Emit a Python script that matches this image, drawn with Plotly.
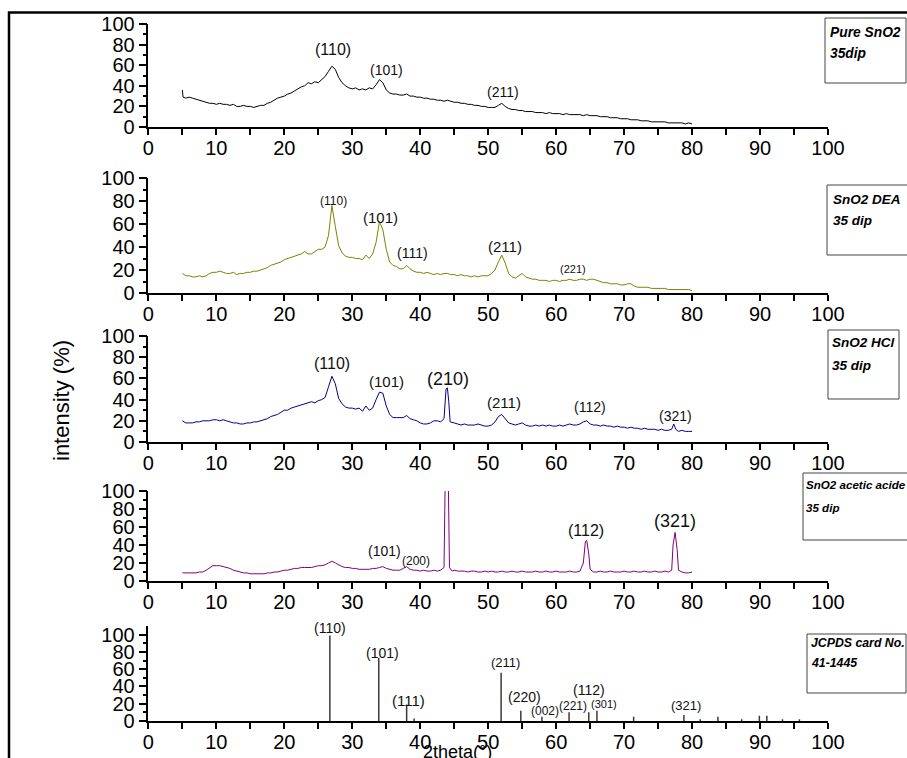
import plotly.graph_objects as go

# ---------------- data ----------------
pure_2theta = [5.0, 5.1, 5.5, 6.0, 6.5, 7.0, 7.5, 8.0, 8.5, 9.0, 9.5, 10.0, 10.5, 11.0, 11.5, 12.0, 12.5, 13.0, 13.5, 14.0,
               14.5, 15.0, 15.5, 16.0, 16.5, 17.0, 17.5, 18.0, 18.5, 19.0, 19.5, 20.0, 20.5, 21.0, 21.5, 22.0, 22.5, 23.0,
               23.5, 24.0, 24.5, 25.0, 25.5, 26.0, 26.5, 27.0, 27.5, 28.0, 28.5, 29.0, 29.5, 30.0, 30.5, 31.0, 31.5, 32.0,
               32.5, 33.0, 33.5, 34.0, 34.5, 35.0, 35.5, 36.0, 36.5, 37.0, 37.5, 38.0, 38.5, 39.0, 39.5, 40.0, 40.5, 41.0,
               41.5, 42.0, 42.5, 43.0, 43.5, 44.0, 44.5, 45.0, 45.5, 46.0, 46.5, 47.0, 47.5, 48.0, 48.5, 49.0, 49.5, 50.0,
               50.5, 51.0, 51.5, 52.0, 52.5, 53.0, 53.5, 54.0, 54.5, 55.0, 55.5, 56.0, 56.5, 57.0, 57.5, 58.0, 58.5, 59.0,
               59.5, 60.0, 60.5, 61.0, 61.5, 62.0, 62.5, 63.0, 63.5, 64.0, 64.5, 65.0, 65.5, 66.0, 66.5, 67.0, 67.5, 68.0,
               68.5, 69.0, 69.5, 70.0, 70.5, 71.0, 71.5, 72.0, 72.5, 73.0, 73.5, 74.0, 74.5, 75.0, 75.5, 76.0, 76.5, 77.0,
               77.5, 78.0, 78.5, 79.0, 79.5, 80.0]
pure_int = [36, 29, 28, 29, 28, 27, 26, 25, 24, 23, 23, 22, 23, 22, 22, 21, 22, 20, 20, 21,
            20, 20, 19, 20, 21, 21, 23, 24, 26, 28, 29, 30, 32, 33, 35, 37, 39, 40,
            43, 42, 44, 43, 46, 49, 54, 59, 56, 48, 43, 40, 38, 37, 38, 36, 37, 36,
            38, 37, 41, 46, 43, 36, 33, 32, 32, 31, 31, 32, 30, 30, 29, 29, 28, 28,
            27, 27, 26, 26, 25, 26, 25, 24, 24, 23, 23, 22, 22, 21, 21, 20, 20, 19,
            19, 19, 21, 23, 20, 18, 17, 17, 16, 16, 15, 15, 15, 14, 14, 14, 13, 14,
            13, 13, 13, 12, 13, 12, 12, 12, 12, 11, 12, 11, 11, 11, 10, 10, 10, 9,
            9, 9, 8, 8, 8, 7, 7, 7, 6, 6, 6, 5, 5, 5, 5, 5, 4, 4,
            4, 4, 4, 3, 4, 3]

dea_2theta = [5.0, 5.5, 6.0, 6.5, 7.0, 7.5, 8.0, 8.5, 9.0, 9.5, 10.0, 10.5, 11.0, 11.5, 12.0, 12.5, 13.0, 13.5, 14.0, 14.5,
              15.0, 15.5, 16.0, 16.5, 17.0, 17.5, 18.0, 18.5, 19.0, 19.5, 20.0, 20.5, 21.0, 21.5, 22.0, 22.5, 23.0, 23.5,
              24.0, 24.5, 25.0, 25.5, 26.0, 26.5, 27.0, 27.5, 28.0, 28.5, 29.0, 29.5, 30.0, 30.5, 31.0, 31.5, 32.0, 32.5,
              33.0, 33.5, 34.0, 34.5, 35.0, 35.5, 36.0, 36.5, 37.0, 37.5, 38.0, 38.5, 39.0, 39.5, 40.0, 40.5, 41.0, 41.5,
              42.0, 42.5, 43.0, 43.5, 44.0, 44.5, 45.0, 45.5, 46.0, 46.5, 47.0, 47.5, 48.0, 48.5, 49.0, 49.5, 50.0, 50.5,
              51.0, 51.5, 52.0, 52.5, 53.0, 53.5, 54.0, 54.5, 55.0, 55.5, 56.0, 56.5, 57.0, 57.5, 58.0, 58.5, 59.0, 59.5,
              60.0, 60.5, 61.0, 61.5, 62.0, 62.5, 63.0, 63.5, 64.0, 64.5, 65.0, 65.5, 66.0, 66.5, 67.0, 67.5, 68.0, 68.5,
              69.0, 69.5, 70.0, 70.5, 71.0, 71.5, 72.0, 72.5, 73.0, 73.5, 74.0, 74.5, 75.0, 75.5, 76.0, 76.5, 77.0, 77.5,
              78.0, 78.5, 79.0, 79.5, 80.0]
dea_int = [17, 15, 15, 14, 14, 15, 14, 15, 17, 18, 18, 19, 18, 17, 17, 18, 16, 17, 17, 18,
           18, 19, 19, 20, 21, 22, 24, 25, 26, 27, 29, 30, 31, 32, 33, 34, 36, 34,
           34, 36, 38, 38, 40, 50, 76, 58, 41, 35, 32, 31, 31, 30, 30, 29, 33, 30,
           34, 44, 62, 55, 38, 27, 24, 23, 21, 21, 24, 21, 19, 18, 18, 17, 18, 17,
           16, 17, 16, 17, 17, 16, 16, 15, 16, 15, 15, 14, 15, 14, 15, 15, 15, 17,
           20, 27, 33, 26, 17, 14, 13, 15, 17, 14, 13, 12, 12, 11, 11, 11, 10, 11,
           11, 10, 11, 11, 12, 11, 11, 12, 12, 11, 12, 12, 11, 10, 9, 9, 8, 8,
           8, 7, 7, 8, 8, 6, 5, 5, 5, 5, 4, 4, 4, 4, 4, 3, 3, 3,
           3, 3, 3, 3, 2]

hcl_2theta = [5.0, 5.5, 6.0, 6.5, 7.0, 7.5, 8.0, 8.5, 9.0, 9.5, 10.0, 10.5, 11.0, 11.5, 12.0, 12.5, 13.0, 13.5, 14.0, 14.5,
              15.0, 15.5, 16.0, 16.5, 17.0, 17.5, 18.0, 18.5, 19.0, 19.5, 20.0, 20.5, 21.0, 21.5, 22.0, 22.5, 23.0, 23.5,
              24.0, 24.5, 25.0, 25.5, 26.0, 26.5, 27.0, 27.5, 28.0, 28.5, 29.0, 29.5, 30.0, 30.5, 31.0, 31.5, 32.0, 32.5,
              33.0, 33.5, 34.0, 34.5, 35.0, 35.5, 36.0, 36.5, 37.0, 37.5, 38.0, 38.5, 39.0, 39.5, 40.0, 40.5, 41.0, 41.5,
              42.0, 42.5, 43.0, 43.5, 43.8, 44.0, 44.2, 44.4, 45.0, 45.5, 46.0, 46.5, 47.0, 47.5, 48.0, 48.5, 49.0, 49.5,
              50.0, 50.5, 51.0, 51.5, 52.0, 52.5, 53.0, 53.5, 54.0, 54.5, 55.0, 55.5, 56.0, 56.5, 57.0, 57.5, 58.0, 58.5,
              59.0, 59.5, 60.0, 60.5, 61.0, 61.5, 62.0, 62.5, 63.0, 63.5, 64.0, 64.5, 65.0, 65.5, 66.0, 66.5, 67.0, 67.5,
              68.0, 68.5, 69.0, 69.5, 70.0, 70.5, 71.0, 71.5, 72.0, 72.5, 73.0, 73.5, 74.0, 74.5, 75.0, 75.5, 76.0, 76.5,
              77.0, 77.3, 77.6, 78.0, 78.5, 79.0, 79.5, 80.0]
hcl_int = [20, 18, 18, 18, 19, 19, 20, 20, 20, 21, 21, 20, 21, 20, 19, 18, 18, 17, 17, 18,
           18, 19, 19, 20, 21, 22, 24, 25, 26, 28, 30, 30, 32, 33, 34, 35, 36, 37,
           38, 37, 39, 40, 42, 52, 62, 55, 41, 36, 33, 32, 32, 31, 32, 29, 34, 30,
           32, 40, 47, 46, 34, 26, 23, 23, 23, 23, 25, 22, 21, 20, 18, 17, 17, 18,
           20, 20, 19, 22, 50, 51, 38, 19, 18, 17, 16, 17, 16, 16, 16, 17, 16, 15,
           15, 16, 19, 24, 26, 22, 18, 17, 16, 17, 18, 16, 15, 15, 16, 15, 16, 15,
           16, 15, 15, 16, 15, 16, 17, 16, 16, 17, 19, 20, 17, 16, 16, 15, 16, 15,
           15, 14, 15, 14, 14, 13, 14, 13, 13, 12, 13, 12, 12, 12, 11, 12, 11, 11,
           12, 17, 12, 10, 11, 10, 10, 10]

acetic_2theta = [5.0, 5.5, 6.0, 6.5, 7.0, 7.5, 8.0, 8.5, 9.0, 9.5, 10.0, 10.5, 11.0, 11.5, 12.0, 12.5, 13.0, 13.5, 14.0, 14.5,
                 15.0, 15.5, 16.0, 16.5, 17.0, 17.5, 18.0, 18.5, 19.0, 19.5, 20.0, 20.5, 21.0, 21.5, 22.0, 22.5, 23.0, 23.5,
                 24.0, 24.5, 25.0, 25.5, 26.0, 26.5, 27.0, 27.5, 28.0, 28.5, 29.0, 29.5, 30.0, 30.5, 31.0, 31.5, 32.0, 32.5,
                 33.0, 33.5, 34.0, 34.5, 35.0, 35.5, 36.0, 36.5, 37.0, 37.5, 38.0, 38.5, 39.0, 39.5, 40.0, 40.5, 41.0, 41.5,
                 42.0, 42.5, 43.0, 43.5, 43.7, 44.1, 44.3, 44.7, 45.0, 45.5, 46.0, 46.5, 47.0, 47.5, 48.0, 48.5, 49.0, 49.5,
                 50.0, 50.5, 51.0, 51.5, 52.0, 52.5, 53.0, 53.5, 54.0, 54.5, 55.0, 55.5, 56.0, 56.5, 57.0, 57.5, 58.0, 58.5,
                 59.0, 59.5, 60.0, 60.5, 61.0, 61.5, 62.0, 62.5, 63.0, 63.5, 64.0, 64.3, 64.5, 64.8, 65.0, 65.5, 66.0, 66.5,
                 67.0, 67.5, 68.0, 68.5, 69.0, 69.5, 70.0, 70.5, 71.0, 71.5, 72.0, 72.5, 73.0, 73.5, 74.0, 74.5, 75.0, 75.5,
                 76.0, 76.5, 77.0, 77.2, 77.5, 77.8, 78.0, 78.5, 79.0, 79.5, 80.0]
acetic_int = [9, 9, 9, 9, 9, 10, 10, 12, 15, 17, 17, 17, 16, 15, 14, 12, 11, 10, 9, 9,
              8, 8, 8, 8, 8, 9, 9, 10, 10, 11, 12, 12, 13, 14, 14, 15, 15, 15,
              15, 16, 17, 17, 18, 20, 22, 20, 18, 16, 15, 15, 14, 14, 13, 13, 13, 13,
              14, 14, 15, 16, 14, 13, 12, 12, 12, 14, 16, 13, 12, 12, 11, 12, 11, 11,
              12, 11, 12, 15, 130, 130, 15, 11, 12, 11, 11, 11, 10, 11, 11, 10, 10, 11,
              10, 11, 10, 10, 11, 10, 10, 11, 10, 10, 11, 10, 10, 10, 11, 10, 10, 11,
              10, 10, 11, 10, 10, 10, 11, 10, 10, 11, 20, 44, 45, 30, 13, 10, 10, 11,
              10, 10, 11, 10, 10, 10, 11, 10, 10, 11, 10, 10, 11, 10, 10, 11, 10, 10,
              11, 10, 12, 40, 54, 35, 12, 10, 9, 9, 10]

jcpds_2theta = [26.7, 33.9, 38.0, 39.1, 51.9, 54.8, 57.9, 61.9, 64.8, 66.0, 71.4, 78.8, 81.2, 83.8, 87.3, 89.9, 91.0, 93.3, 95.8]
jcpds_int = [99, 73, 19, 3, 56, 12, 5, 10, 10, 12, 5, 7, 2, 5, 2, 6, 6, 2, 2]

# Miller-index labels: (text, 2theta, height, font size)
pure_labels = [("(110)", 27.2, 75, 16), ("(101)", 35.0, 55, 14), ("(211)", 52.2, 34, 14)]
dea_labels = [("(110)", 27.3, 80, 12), ("(101)", 34.2, 66, 15), ("(111)", 38.8, 35, 14),
              ("(211)", 52.5, 40, 15), ("(221)", 62.5, 21, 11)]
hcl_labels = [("(110)", 27.0, 74.5, 16), ("(101)", 35.0, 57.5, 15), ("(210)", 44.1, 59.4, 18),
              ("(211)", 52.3, 36.8, 15), ("(112)", 65.0, 33, 14), ("(321)", 77.5, 24.5, 14)]
acetic_labels = [("(210)", 43.9, 111, 16), ("(101)", 34.8, 33.3, 14), ("(200)", 39.4, 22.2, 12),
                 ("(112)", 64.4, 55.6, 16), ("(321)", 77.5, 66.7, 18)]
jcpds_labels = [("(110)", 26.7, 107.6, 14), ("(101)", 34.5, 78.7, 14), ("(111)", 38.3, 24.3, 15),
                ("(211)", 52.5, 68.3, 13), ("(220)", 55.3, 27.8, 14), ("(002)", 58.4, 11.6, 12),
                ("(221)", 62.5, 17.4, 12), ("(112)", 64.8, 35.9, 14), ("(301)", 67.0, 19.7, 11),
                ("(321)", 79.1, 18.5, 13)]

sample_names = [["Pure SnO2", "35dip"], ["SnO2 DEA", "35 dip"], ["SnO2 HCl", "35 dip"],
                ["SnO2 acetic acide", "35 dip"], ["JCPDS card No.", "41-1445"]]

# ---------------- layout helpers ----------------
W, H = 907, 758
FONT = "Liberation Sans, Arial, sans-serif"


def px_x(p):
    return p / W


def px_y(p):
    return 1 - p / H


x_dom = [px_x(148.4), px_x(828.0)]
# (top pixel, bottom pixel, y max) for each panel
panels = [(24, 127, 100), (178, 293, 100), (336, 442, 100), (491, 581, 100), (626, 721, 110)]

fig = go.Figure()

curves = [(pure_2theta, pure_int, "#000000"),
          (dea_2theta, dea_int, "#808000"),
          (hcl_2theta, hcl_int, "#00008B"),
          (acetic_2theta, acetic_int, "#800080")]

for i, (xs, ys, col) in enumerate(curves):
    n = i + 1
    fig.add_trace(go.Scatter(x=xs, y=ys, mode="lines", line=dict(color=col, width=1),
                             xaxis=f"x{n}", yaxis=f"y{n}", showlegend=False, hoverinfo="skip"))

# reference pattern drawn as vertical sticks
stick_x, stick_y = [], []
for xv, yv in zip(jcpds_2theta, jcpds_int):
    stick_x += [xv, xv, None]
    stick_y += [0, yv, None]
fig.add_trace(go.Scatter(x=stick_x, y=stick_y, mode="lines", line=dict(color="#3a3a3a", width=1.5),
                         xaxis="x5", yaxis="y5", showlegend=False, hoverinfo="skip"))

layout = dict(template="none", width=W, height=H,
              margin=dict(l=0, r=0, t=0, b=0, pad=0, autoexpand=False),
              paper_bgcolor="white", plot_bgcolor="rgba(0,0,0,0)", showlegend=False)

for i, (top, bot, ymax) in enumerate(panels):
    n = i + 1
    sfx = "" if n == 1 else str(n)
    layout[f"xaxis{sfx}"] = dict(
        domain=x_dom, anchor=f"y{n}", range=[0, 100], tickmode="linear", tick0=0, dtick=10,
        ticks="outside", ticklen=6, tickwidth=1.5, tickcolor="black", automargin=False,
        ticklabelstandoff=-4,
        minor=dict(dtick=5, ticks="outside", ticklen=6, tickwidth=1.5, tickcolor="black"),
        showline=True, linecolor="black", linewidth=1.5, showgrid=False, zeroline=False,
        tickfont=dict(family=FONT, size=20, color="black"))
    layout[f"yaxis{sfx}"] = dict(
        domain=[px_y(bot), px_y(top)], anchor=f"x{n}", range=[0, ymax],
        tickvals=[0, 20, 40, 60, 80, 100], automargin=False,
        ticks="outside", ticklen=8, tickwidth=1.5, tickcolor="black",
        minor=dict(tickvals=[10, 30, 50, 70, 90], ticks="outside", ticklen=4, tickwidth=1.5, tickcolor="black"),
        showline=True, linecolor="black", linewidth=1.5, showgrid=False, zeroline=False,
        tickfont=dict(family=FONT, size=20, color="black"))

annotations = []
for n, labels in enumerate([pure_labels, dea_labels, hcl_labels, acetic_labels, jcpds_labels], start=1):
    for text, xv, yv, size in labels:
        annotations.append(dict(text=text, x=xv, y=yv, xref=f"x{n}", yref=f"y{n}", showarrow=False,
                                xanchor="center", yanchor="middle",
                                font=dict(family=FONT, size=size, color="#111111")))

# axis titles
annotations.append(dict(text="intensity (%)", x=px_x(61), y=px_y(400), xref="paper", yref="paper",
                        xanchor="center", yanchor="middle",
                        showarrow=False, textangle=-90, font=dict(family=FONT, size=22, color="black")))
annotations.append(dict(text="2theta(°)", x=px_x(457), y=px_y(752), xref="paper", yref="paper",
                        xanchor="center", yanchor="middle",
                        showarrow=False, font=dict(family=FONT, size=18, color="black")))

# sample name boxes: (left, top, right, bottom, text x, line1 y, line2 y, font size)
boxes = [(825, 18, 906, 83, 828, 32, 53, 13.8),
         (827, 185, 908, 255, 831, 199, 220, 13.5),
         (828, 330, 899, 399, 830, 342, 365, 13.5),
         (803, 473, 910, 540, 804, 484, 507, 11.6),
         (807, 634, 906, 693, 809, 643, 663, 12.3)]
shapes = [dict(type="rect", xref="paper", yref="paper", x0=px_x(9), y0=-0.05, x1=1.05, y1=px_y(12.5),
               line=dict(color="black", width=2.5), fillcolor="rgba(0,0,0,0)", layer="below")]
for (l, t, r, b, tx, y1, y2, fs), lines in zip(boxes, sample_names):
    shapes.append(dict(type="rect", xref="paper", yref="paper", x0=px_x(l), y0=px_y(b), x1=px_x(r), y1=px_y(t),
                       line=dict(color="#444444", width=1), fillcolor="white", layer="above"))
    for txt, yy in zip(lines, (y1, y2)):
        annotations.append(dict(text=f"<b><i>{txt}</i></b>", x=px_x(tx), y=px_y(yy), xref="paper", yref="paper",
                                showarrow=False, xanchor="left", yanchor="middle",
                                font=dict(family=FONT, size=fs, color="black")))

layout["annotations"] = annotations
layout["shapes"] = shapes
fig.update_layout(**layout)

fig.write_html("out.html")
